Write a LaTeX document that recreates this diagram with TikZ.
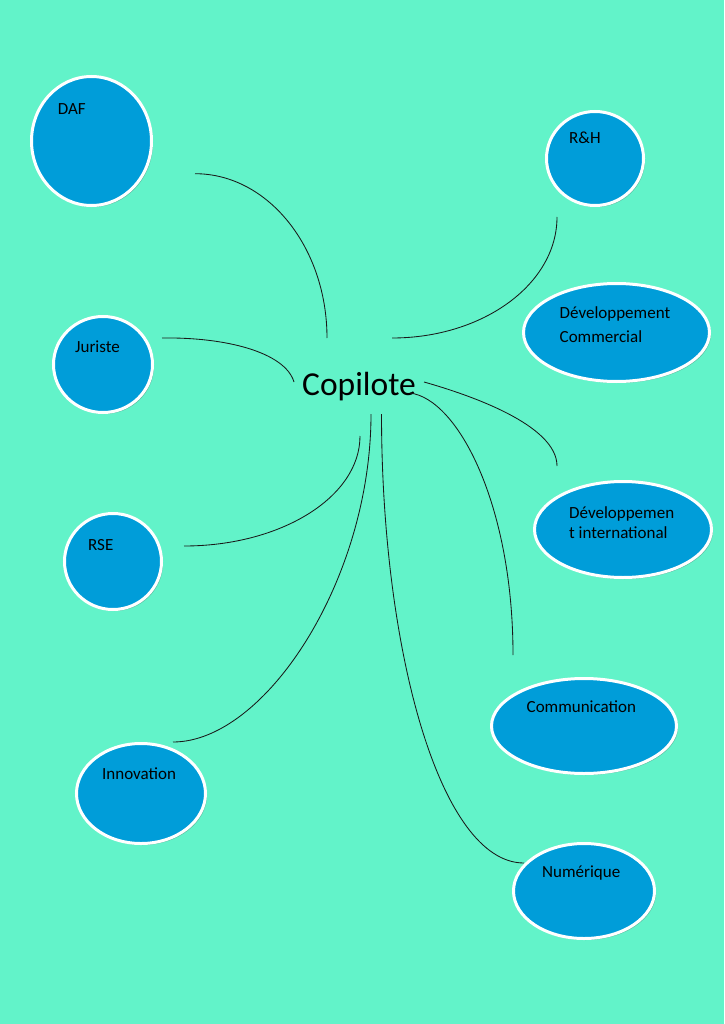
\documentclass[tikz,border=0pt]{standalone}
\usepackage{fontspec}
\setmainfont{Carlito}
\usetikzlibrary{shapes.geometric,shadows}
\definecolor{bgmint}{RGB}{98,243,201}
\definecolor{bubblefill}{RGB}{0,157,217}
\tikzset{
  bubble/.style={ellipse, draw=white, line width=3pt, fill=bubblefill, inner sep=0pt,
    drop shadow={shadow xshift=1.5pt, shadow yshift=-1.5pt, opacity=0.35, fill=black!70}},
  lbl/.style={anchor=base west, inner sep=0pt, font=\fontsize{17}{20}\selectfont},
  link/.style={draw=black!90, line width=0.85pt}
}
\begin{document}
\begin{tikzpicture}[x=1pt,y=-1pt]
\fill[bgmint] (0,0) rectangle (724,1024);
\useasboundingbox (0,0) rectangle (724,1024);

% bubbles
\node[bubble, minimum width=120pt, minimum height=129pt] (daf) at (91.5,141) {};
\node[bubble, minimum width=97pt, minimum height=94pt] (rh) at (595,158.5) {};
\node[bubble, minimum width=186pt, minimum height=98pt] (devcom) at (616.5,332.5) {};
\node[bubble, minimum width=99pt, minimum height=96pt] (jur) at (103,364.5) {};
\node[bubble, minimum width=97pt, minimum height=96pt] (rse) at (113,561.5) {};
\node[bubble, minimum width=177pt, minimum height=96pt] (devint) at (623,529.5) {};
\node[bubble, minimum width=185pt, minimum height=95pt] (comm) at (584,726) {};
\node[bubble, minimum width=129pt, minimum height=100pt] (innov) at (141,793.5) {};
\node[bubble, minimum width=141pt, minimum height=95pt] (num) at (584,891) {};

% labels
\node[lbl] (daft) at (57.7,115) {DAF};
\node[lbl] (rht) at (569,144) {R\&H};
\node[lbl] (devcomt1) at (559.5,318.3) {Développement};
\node[lbl] (devcomt2) at (559.5,342.3) {Commercial};
\node[lbl] (jurt) at (75,352) {Juriste};
\node[lbl] (rset) at (88,550) {RSE};
\node[lbl] (devintt1) at (569,518.3) {Développemen};
\node[lbl] (devintt2) at (569,538.3) {t international};
\node[lbl] (commt) at (526.5,712.7) {Communication};
\node[lbl] (innovt) at (102,779) {Innovation};
\node[lbl] (numt) at (542,877) {Numérique};

% centre
\node[anchor=base, inner sep=0pt, font=\fontsize{33.5}{40}\selectfont] (cop) at (359,395.5) {Copilote};

% connector end points
\coordinate (daf-e) at (195,173.7);   \coordinate (cop-daf) at (327,338);
\coordinate (rh-e) at (557,217);      \coordinate (cop-rh) at (392,338);
\coordinate (jur-e) at (162,338);     \coordinate (cop-jur) at (294,382);
\coordinate (rse-e) at (184,546);     \coordinate (cop-rse) at (360,436);
\coordinate (innov-e) at (173,742);   \coordinate (cop-innov) at (371,414);
\coordinate (num-e) at (524,863);     \coordinate (cop-num) at (381.5,414);
\coordinate (comm-e) at (513,655);    \coordinate (cop-comm) at (410,393);
\coordinate (devint-e) at (557,466);  \coordinate (cop-devint) at (424,382);

% connectors
\draw[link] (daf-e) .. controls (268,173.7) and (327,247.5) .. (cop-daf);
\draw[link] (rh-e) .. controls (557,284) and (483,338) .. (cop-rh);
\draw[link] (jur-e) .. controls (225,337) and (285,352) .. (cop-jur);
\draw[link] (rse-e) .. controls (281,546) and (360,497) .. (cop-rse);
\draw[link] (innov-e) .. controls (265,742) and (371,580) .. (cop-innov);
\draw[link] (cop-num) .. controls (381.5,650) and (440,863) .. (num-e);
\draw[link] (cop-comm) .. controls (458,399) and (513,505) .. (comm-e);
\draw[link] (cop-devint) .. controls (470,395) and (557,425) .. (devint-e);
\end{tikzpicture}
\end{document}
